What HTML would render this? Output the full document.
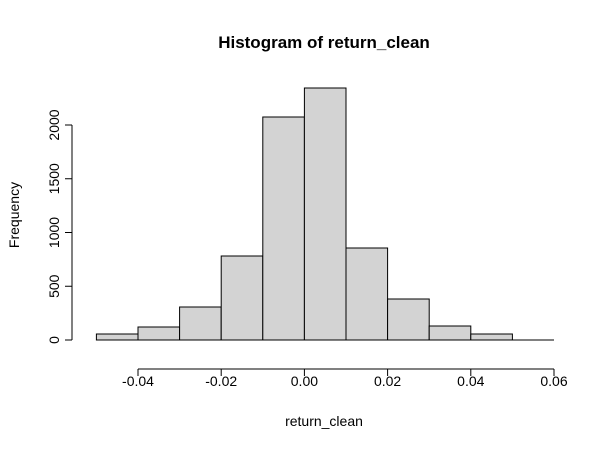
<!DOCTYPE html>
<html><head><meta charset="utf-8"><style>
html,body{margin:0;padding:0;background:#fff;}
svg{display:block;font-family:"Liberation Sans",Arial,sans-serif;}
</style></head><body>
<svg id="chart" width="613" height="449" viewBox="0 0 613 449">
<text x="324" y="48" text-anchor="middle" font-size="17" font-weight="bold">Histogram of return_clean</text>
<text x="324" y="426" text-anchor="middle" font-size="14">return_clean</text>
<text transform="translate(19,215) rotate(-90)" text-anchor="middle" font-size="14">Frequency</text>
<g id="bars"></g>
<g id="xaxis"></g>
<g id="yaxis"></g>
</svg>
<script>
const binEdges = [-0.05,-0.04,-0.03,-0.02,-0.01,0.00,0.01,0.02,0.03,0.04,0.05,0.06];
const counts = [56,121,307,781,2074,2344,856,381,130,56,0];
const xTicks = [-0.04,-0.02,0.00,0.02,0.04,0.06];
const xTickLabels = ["-0.04","-0.02","0.00","0.02","0.04","0.06"];
const yTicks = [0,500,1000,1500,2000];

const NS="http://www.w3.org/2000/svg";
function X(v){return 138+(v+0.04)*4160;}
function Y(v){return 340-v*0.1075;}
function mk(tag,attrs,parent){const e=document.createElementNS(NS,tag);for(const k in attrs)e.setAttribute(k,attrs[k]);parent.appendChild(e);return e;}
const bars=document.getElementById('bars');
counts.forEach((c,i)=>{
  const x0=X(binEdges[i]),x1=X(binEdges[i+1]),y0=Y(0),y1=Y(c);
  const r=mk('path',{d:`M${x0},${y0}L${x0},${y1}L${x1},${y1}L${x1},${y0}Z`,fill:'#d3d3d3',stroke:'#000','stroke-width':1},bars);
  
  
});
const xa=document.getElementById('xaxis');
mk('line',{x1:X(xTicks[0]),x2:X(xTicks[xTicks.length-1]),y1:369,y2:369,stroke:'#000'},xa);
xTicks.forEach((t,i)=>{
  mk('line',{x1:X(t),x2:X(t),y1:369,y2:376,stroke:'#000'},xa);
  const tx=mk('text',{x:X(t),y:386,'text-anchor':'middle','font-size':14},xa);
  tx.textContent=xTickLabels[i];
  
  
});
const ya=document.getElementById('yaxis');
mk('line',{x1:72,x2:72,y1:Y(yTicks[0]),y2:Y(yTicks[yTicks.length-1]),stroke:'#000'},ya);
yTicks.forEach(t=>{
  mk('line',{x1:65,x2:72,y1:Y(t),y2:Y(t),stroke:'#000'},ya);
  const tx=mk('text',{transform:`translate(59,${Y(t)}) rotate(-90)`,'text-anchor':'middle','font-size':14},ya);
  tx.textContent=String(t);
  
  
});
</script>
</body></html>
